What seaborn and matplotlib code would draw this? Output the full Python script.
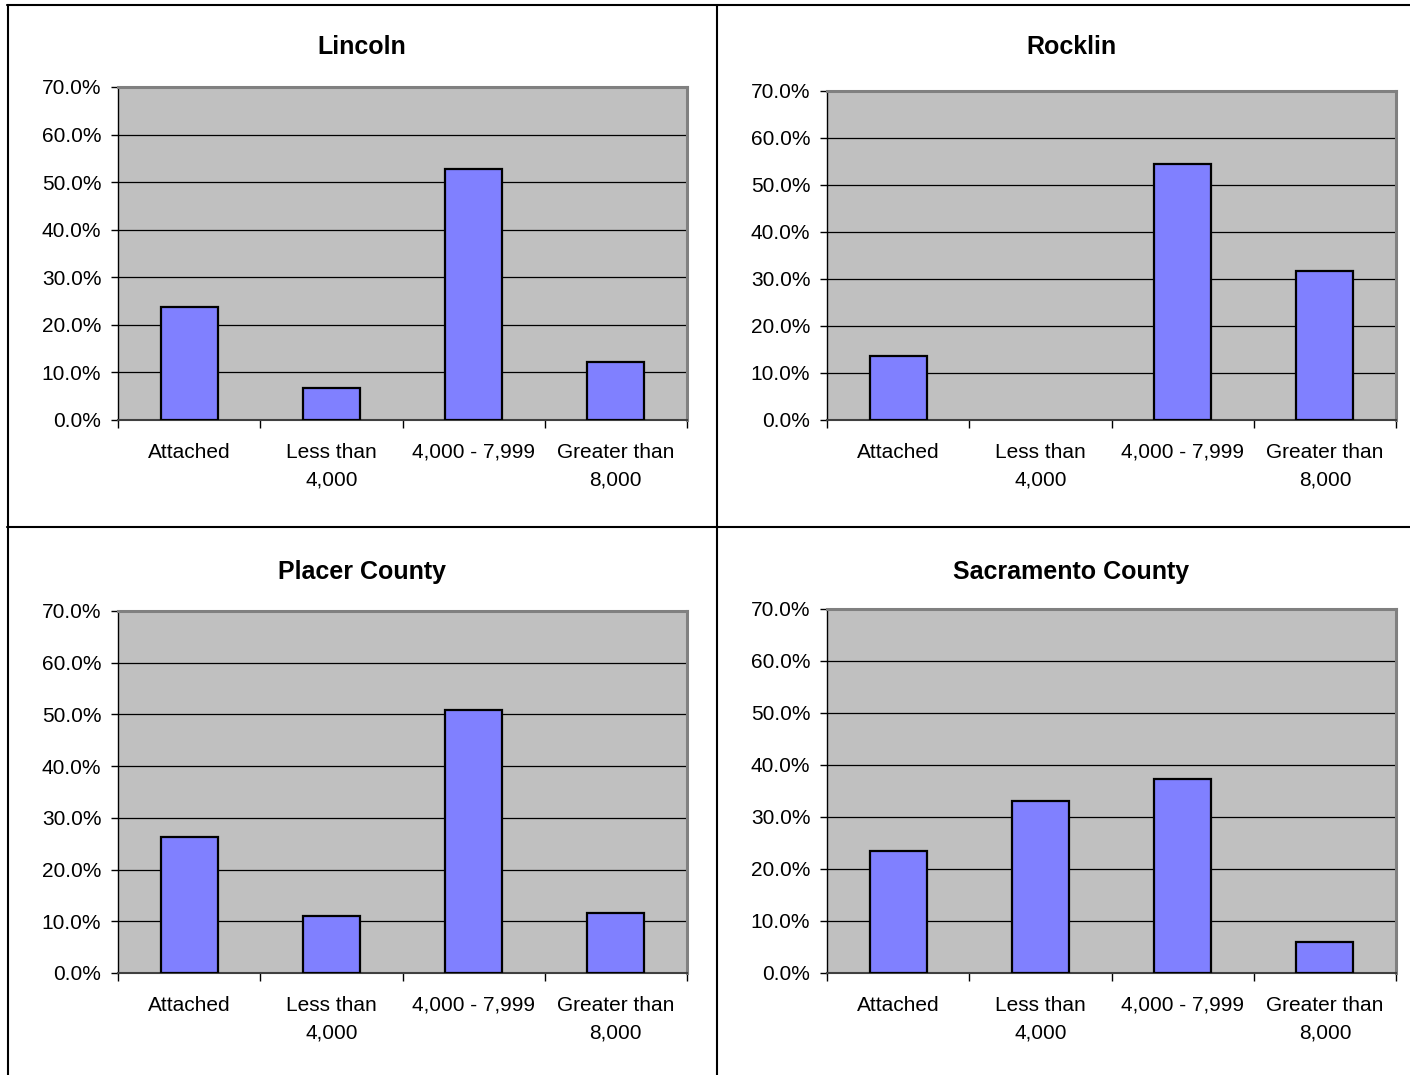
import matplotlib
matplotlib.use("Agg")
import matplotlib.pyplot as plt
from matplotlib.lines import Line2D
from matplotlib.ticker import FuncFormatter, FixedLocator
import seaborn as sns
import pandas as pd

# Lot-size categories and share of homes in each area
categories = ["Attached", "Less than\n4,000", "4,000 - 7,999", "Greater than\n8,000"]
lincoln = [0.238, 0.067, 0.528, 0.122]
rocklin = [0.136, 0.0, 0.545, 0.317]
placer_county = [0.263, 0.110, 0.509, 0.116]
sacramento_county = [0.235, 0.331, 0.373, 0.060]
titles = ["Lincoln", "Rocklin", "Placer County", "Sacramento County"]
y_ticks = [0.0, 0.1, 0.2, 0.3, 0.4, 0.5, 0.6, 0.7]

sns.set_style("white")
plt.rcParams["font.family"] = ["Liberation Sans", "DejaVu Sans"]
plt.rcParams["text.color"] = "black"
plt.rcParams["xtick.color"] = "black"
plt.rcParams["ytick.color"] = "black"

W, H = 1410, 1075
fig = plt.figure(figsize=(W / 100, H / 100), dpi=100)

# panel layout in pixels: (left, top, right, bottom) of the plot area, title centre
panels = [
    (lincoln, (118, 87, 687, 420), (362, 47)),
    (rocklin, (827, 91, 1396, 420), (1071, 47)),
    (placer_county, (118, 611, 687, 973), (362, 572)),
    (sacramento_county, (827, 609, 1396, 973), (1071, 572)),
]

for (values, (l, t, r, b), (tx, ty)), title in zip(panels, titles):
    ax = fig.add_axes([l / W, 1 - b / H, (r - l) / W, (b - t) / H])
    df = pd.DataFrame({"category": categories, "share": values})
    sns.barplot(data=df, x="category", y="share", ax=ax, color="#8080FF",
                saturation=1, edgecolor="black", linewidth=1.6, width=0.4,
                zorder=3)
    for patch in ax.patches:
        if patch.get_height() == 0:
            patch.set_linewidth(0)
    ax.set_facecolor("#C0C0C0")
    ax.set_xlim(-0.5, 3.5)
    ax.set_ylim(0, 0.7)
    ax.set_xlabel("")
    ax.set_ylabel("")
    ax.yaxis.set_major_locator(FixedLocator(y_ticks))
    ax.yaxis.set_major_formatter(FuncFormatter(lambda v, p: f"{v * 100:.1f}%"))
    ax.grid(axis="y", color="black", linewidth=0.9, zorder=1)
    ax.set_axisbelow(True)
    ax.xaxis.set_minor_locator(FixedLocator([-0.5, 0.5, 1.5, 2.5, 3.5]))
    ax.tick_params(axis="x", which="major", length=0, pad=16.5, labelsize=15,
                   labelcolor="black")
    ax.tick_params(axis="x", which="minor", length=6, width=1, color="black",
                   direction="out", bottom=True)
    ax.tick_params(axis="y", which="major", length=5, width=1, color="black",
                   direction="out", left=True, pad=7, labelsize=15,
                   labelcolor="black")
    for lab in ax.get_xticklabels():
        lab.set_linespacing(1.6)
        lab.set_verticalalignment("top")
    for side in ("top", "right"):
        ax.spines[side].set_color("#808080")
        ax.spines[side].set_linewidth(2.2)
    ax.spines["left"].set_color("black")
    ax.spines["left"].set_linewidth(1.0)
    ax.spines["bottom"].set_color("#404040")
    ax.spines["bottom"].set_linewidth(1.5)
    fig.text(tx / W, 1 - ty / H, title, ha="center", va="center",
             fontsize=18, fontweight="bold", color="black")

# frame lines separating the four panels
def px_line(x0, y0, x1, y1):
    fig.add_artist(Line2D([x0 / W, x1 / W], [1 - y0 / H, 1 - y1 / H],
                          transform=fig.transFigure, color="black",
                          linewidth=1.5))

px_line(7, 5, W, 5)
px_line(7.5, 5, 7.5, H)
px_line(717, 5, 717, H)
px_line(7, 527, W, 527)

fig.savefig("out.png", dpi=100, facecolor="white")
